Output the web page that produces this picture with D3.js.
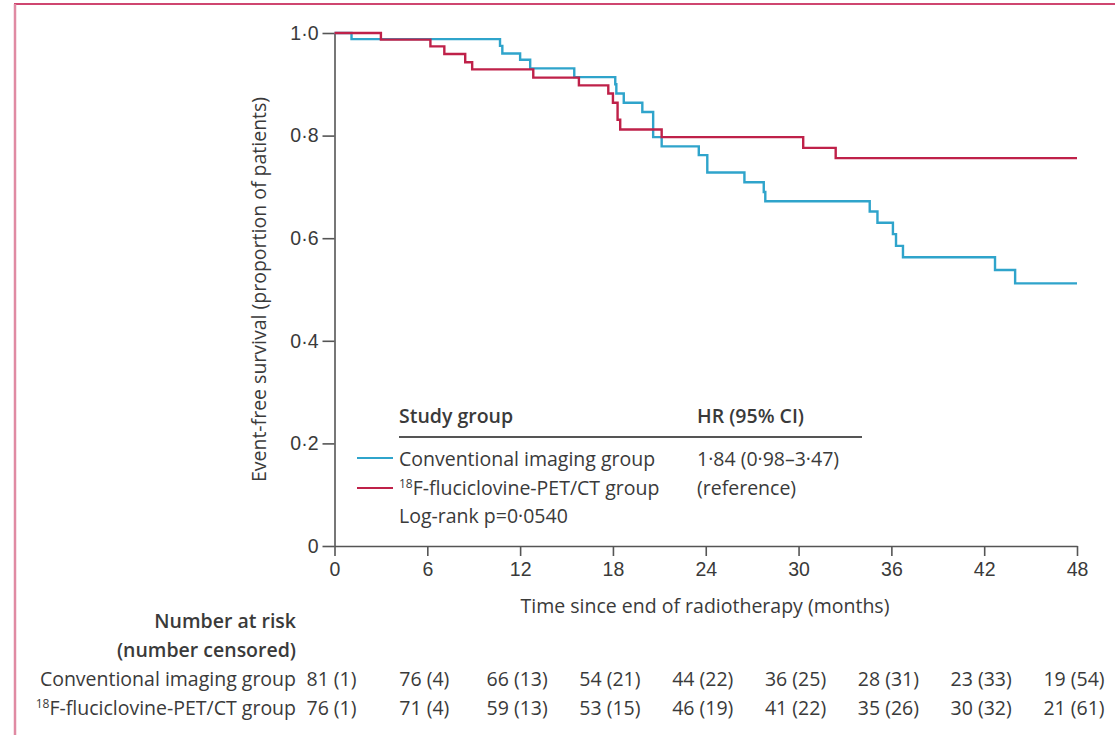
<!DOCTYPE html>
<html lang="en">
<head>
  <meta charset="UTF-8">
  <title>Event-free survival</title>
  <script src="https://d3js.org/d3.v7.min.js"></script>
  <style>
    body {
      margin: 0;
      background: #fff;
    }
    svg {
      display: block;
      font-family: "Open Sans", sans-serif;
    }
    .axis path, .axis line {
      stroke: #555;
      stroke-width: 1.6px;
    }
    .axis text {
      font-size: 19.5px;
      fill: #3a3a3a;
    }
    .lbl {
      font-size: 19.5px;
      fill: #3a3a3a;
    }
    .bold {
      font-weight: 600;
    }
  </style>
</head>
<body>
  <div id="chart"></div>

  <script>
    // Kaplan-Meier step points (months, proportion)
    const convTimes = [0, 1.1, 10.7, 10.85, 12.0, 12.65, 15.5, 18.15, 18.22, 18.7, 19.9, 20.6, 21.15, 23.55, 24.1, 26.5, 27.75, 27.85, 34.6, 35.1, 36.1, 36.3, 36.75, 42.7, 44.0, 48];
    const convSurv  = [1.0, 0.988, 0.975, 0.960, 0.948, 0.931, 0.914, 0.900, 0.882, 0.864, 0.846, 0.797, 0.779, 0.762, 0.728, 0.709, 0.690, 0.672, 0.652, 0.630, 0.608, 0.585, 0.563, 0.538, 0.512, 0.512];

    const petTimes = [0, 3.0, 6.2, 7.1, 8.45, 8.9, 12.85, 15.8, 17.7, 18.0, 18.3, 18.47, 21.15, 30.3, 32.4, 48];
    const petSurv  = [1.0, 0.987, 0.974, 0.959, 0.943, 0.929, 0.913, 0.898, 0.882, 0.864, 0.831, 0.812, 0.797, 0.776, 0.756, 0.756];

    const xTicks = [0, 6, 12, 18, 24, 30, 36, 42, 48];
    const yTicks = [0, 0.2, 0.4, 0.6, 0.8, 1.0];

    const riskTimes = [0, 6, 12, 18, 24, 30, 36, 42, 48];
    const convRisk = ["81 (1)", "76 (4)", "66 (13)", "54 (21)", "44 (22)", "36 (25)", "28 (31)", "23 (33)", "19 (54)"];
    const petRisk  = ["76 (1)", "71 (4)", "59 (13)", "53 (15)", "46 (19)", "41 (22)", "35 (26)", "30 (32)", "21 (61)"];

    const blue = "#2fa4cb";
    const red = "#bf2149";

    const width = 1115;
    const height = 735;

    const x = d3.scaleLinear().domain([0, 48]).range([334.5, 1077]);
    const y = d3.scaleLinear().domain([0, 1]).range([546, 33]);

    const fmt = d => d === 0 ? "0" : d.toFixed(1).replace(".", "\u00b7");

    const svg = d3.select("#chart").append("svg")
      .attr("width", width)
      .attr("height", height);

    svg.append("rect").attr("width", width).attr("height", height).attr("fill", "#fff");

    // pink frame (top + left)
    svg.append("line")
      .attr("x1", 14).attr("x2", width).attr("y1", 4).attr("y2", 4)
      .attr("stroke", "#cf4670").attr("stroke-width", 2);
    svg.append("line")
      .attr("x1", 15).attr("x2", 15).attr("y1", 4).attr("y2", height)
      .attr("stroke", "#e08aa3").attr("stroke-width", 2.5);

    // axes
    svg.append("g")
      .attr("class", "axis")
      .attr("transform", `translate(0,${y(0)})`)
      .call(d3.axisBottom(x).tickValues(xTicks).tickSize(10).tickSizeOuter(0).tickPadding(4))
      .call(g => g.selectAll("text").attr("dy", "0.8em"));

    svg.append("g")
      .attr("class", "axis")
      .attr("transform", `translate(${x(0)},0)`)
      .call(d3.axisLeft(y).tickValues(yTicks).tickFormat(fmt).tickSize(12).tickSizeOuter(0).tickPadding(4));

    // axis titles
    svg.append("text")
      .attr("class", "lbl")
      .attr("transform", `translate(259,${(y(0) + y(1)) / 2}) rotate(-90)`)
      .attr("text-anchor", "middle")
      .attr("dy", "0.35em")
      .text("Event-free survival (proportion of patients)");

    svg.append("text")
      .attr("class", "lbl")
      .attr("x", 705)
      .attr("y", 606)
      .attr("text-anchor", "middle")
      .attr("dy", "0.35em")
      .text("Time since end of radiotherapy (months)");

    // curves
    const line = d3.line()
      .x(d => x(d[0]))
      .y(d => y(d[1]))
      .curve(d3.curveStepAfter);

    const series = [
      { t: convTimes, s: convSurv, color: blue },
      { t: petTimes, s: petSurv, color: red }
    ];

    svg.selectAll(".km")
      .data(series)
      .enter().append("path")
        .attr("class", "km")
        .attr("fill", "none")
        .attr("stroke", d => d.color)
        .attr("stroke-width", 2.4)
        .attr("d", d => line(d.t.map((t, i) => [t, d.s[i]])));

    // superscript "18" + rest of the group name
    function petLabel(sel) {
      sel.append("tspan").attr("font-size", "12px").attr("dy", "-0.55em").text("18");
      sel.append("tspan").attr("dy", "6.6px").text("F-fluciclovine-PET/CT group");
    }

    // legend
    const leg = svg.append("g");
    leg.append("text").attr("class", "lbl bold").attr("x", 399).attr("y", 416).attr("dy", "0.35em").text("Study group");
    leg.append("text").attr("class", "lbl bold").attr("x", 697).attr("y", 416).attr("dy", "0.35em").text("HR (95% CI)");
    leg.append("line").attr("x1", 399).attr("x2", 862).attr("y1", 437).attr("y2", 437)
      .attr("stroke", "#555").attr("stroke-width", 2);

    leg.append("line").attr("x1", 357).attr("x2", 393).attr("y1", 458).attr("y2", 458)
      .attr("stroke", blue).attr("stroke-width", 2);
    leg.append("line").attr("x1", 357).attr("x2", 393).attr("y1", 488).attr("y2", 488)
      .attr("stroke", red).attr("stroke-width", 2);

    leg.append("text").attr("class", "lbl").attr("x", 399).attr("y", 459).attr("dy", "0.35em").text("Conventional imaging group");
    leg.append("text").attr("class", "lbl").attr("x", 399).attr("y", 488 + 6.8).call(petLabel);
    leg.append("text").attr("class", "lbl").attr("x", 399).attr("y", 516).attr("dy", "0.35em").text("Log-rank p=0\u00b70540");
    leg.append("text").attr("class", "lbl").attr("x", 697).attr("y", 459).attr("dy", "0.35em").text("1\u00b784 (0\u00b798\u20133\u00b747)");
    leg.append("text").attr("class", "lbl").attr("x", 697).attr("y", 488).attr("dy", "0.35em").text("(reference)");

    // number at risk table
    const tbl = svg.append("g");
    tbl.append("text").attr("class", "lbl bold").attr("x", 296).attr("y", 621).attr("dy", "0.35em")
      .attr("text-anchor", "end").text("Number at risk");
    tbl.append("text").attr("class", "lbl bold").attr("x", 296).attr("y", 650).attr("dy", "0.35em")
      .attr("text-anchor", "end").text("(number censored)");

    tbl.append("text").attr("class", "lbl").attr("x", 296).attr("y", 679).attr("dy", "0.35em")
      .attr("text-anchor", "end").text("Conventional imaging group");
    tbl.append("text").attr("class", "lbl").attr("x", 296).attr("y", 708 + 6.8)
      .attr("text-anchor", "end").call(petLabel);

    [[convRisk, 679], [petRisk, 708]].forEach(([vals, yy]) => {
      tbl.selectAll(null)
        .data(vals)
        .enter().append("text")
          .attr("class", "lbl")
          .attr("x", (d, i) => x(riskTimes[i]) - 3)
          .attr("y", yy)
          .attr("dy", "0.35em")
          .attr("text-anchor", "middle")
          .text(d => d);
    });
  </script>
</body>
</html>
